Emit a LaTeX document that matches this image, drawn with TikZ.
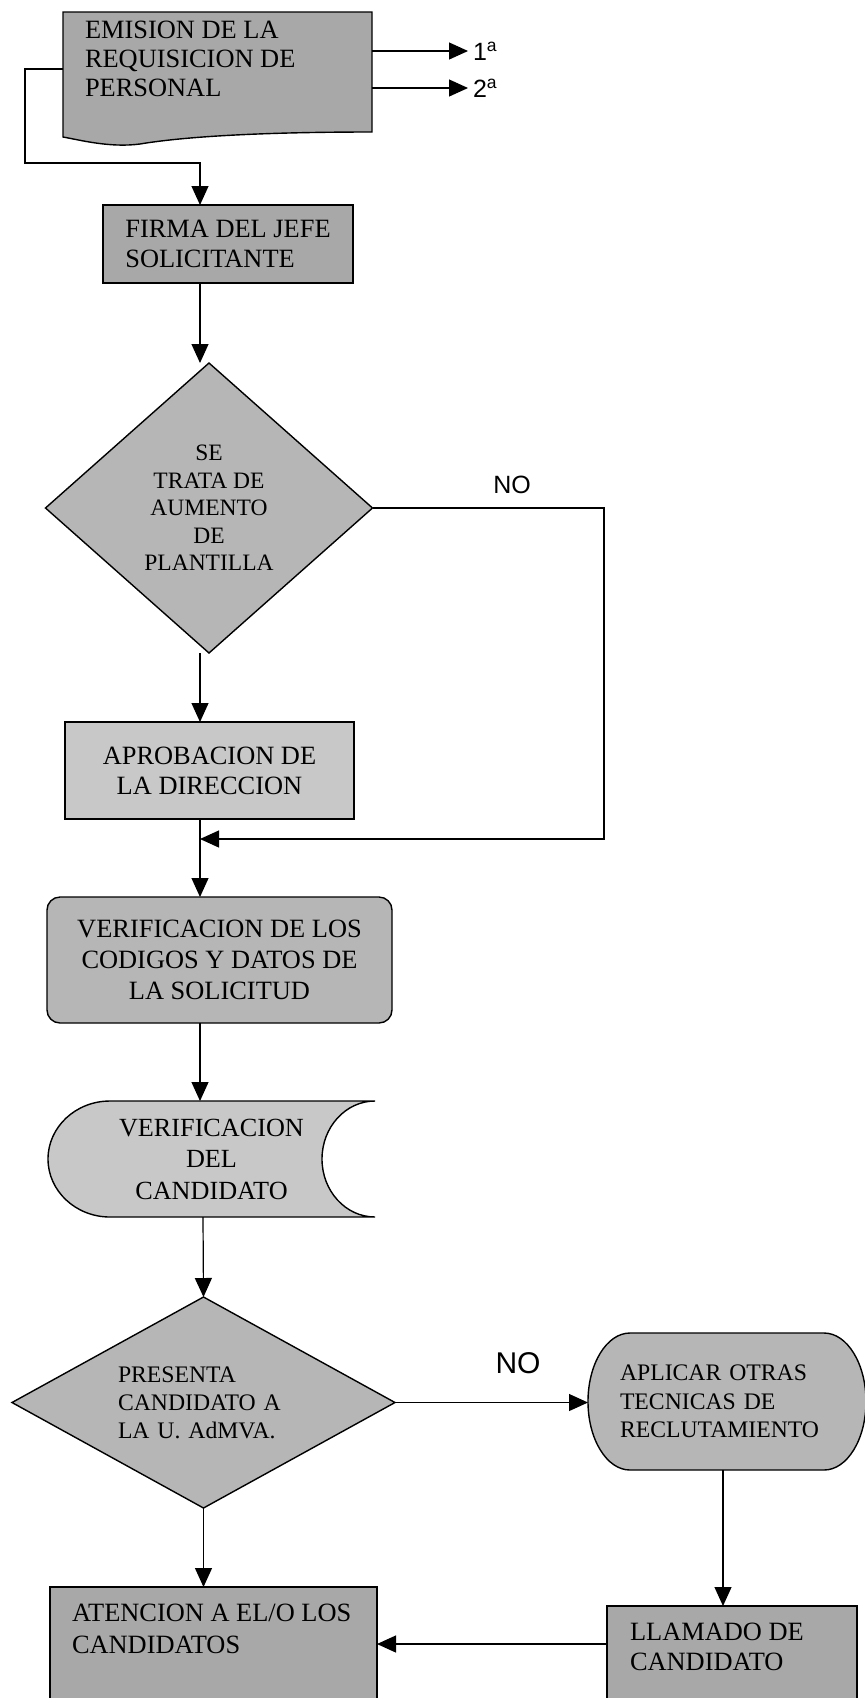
\documentclass[tikz,border=0pt]{standalone}
\usepackage{fontspec}
\setmainfont{Liberation Serif}
\newfontfamily\arialfont{Liberation Sans}
\usetikzlibrary{arrows.meta,shapes.geometric}
\definecolor{fdark}{HTML}{A8A8A8}
\definecolor{fmid}{HTML}{B6B6B6}
\definecolor{flight}{HTML}{C8C8C8}
\begin{document}
\begin{tikzpicture}[x=1pt,y=-1pt,
  every node/.style={inner sep=0pt,outer sep=0pt},
  big/.style={font=\fontsize{26.4}{30}\selectfont},
  box/.style={draw,line width=1.4pt,line join=miter},
  conn/.style={line width=1.2pt},
  arr/.style={conn,-{Triangle[length=19pt,width=17pt]}},
  lab/.style={font=\arialfont\fontsize{25}{30}\selectfont}]
\fill[white] (0,0) rectangle (865,1698);
\useasboundingbox (0,0) rectangle (865,1698);
\coordinate (col) at (200,0);
\coordinate (col2) at (203,0);

% document shape
\draw[box,fill=fdark] (63,12) -- (372,12) -- (372,132) .. controls (300,132) and (200,134) .. (140,144) .. controls (110,148) and (80,140) .. (63,137) -- cycle;
\node[minimum width=309pt,minimum height=114pt] (doc) at (217.5,69) {};
\node[font=\fontsize{26.4}{29}\selectfont,align=left,anchor=north west] (docT) at (85,21.3) {EMISION DE LA\\REQUISICION DE\\PERSONAL};
\node[lab,font=\arialfont\fontsize{25}{28}\selectfont,anchor=west] (one) at (473,51) {1\textsuperscript{a}};
\node[lab,font=\arialfont\fontsize{25}{28}\selectfont,anchor=west] (two) at (473,88) {2\textsuperscript{a}};
\draw[arr,shorten >=5pt] (doc.east |- one.west) -- (one.west);
\draw[arr,shorten >=5pt] (doc.east |- two.west) -- (two.west);

\node[box,fill=fdark,big,align=left,minimum width=250pt,minimum height=78pt] (firma) at (228,244) {FIRMA DEL JEFE\\SOLICITANTE};
\draw[arr] (doc.west) -- (25,69) -- (25,163) -- (200,163) -- (firma.north -| col);

\node[box,fill=fmid,diamond,aspect=1.13,minimum width=327pt,minimum height=290pt,font=\fontsize{23.5}{27.5}\selectfont,align=center] (d1) at (209,508) {SE\\TRATA DE\\AUMENTO\\DE\\PLANTILLA};
\draw[arr] (firma.south -| col) -- (d1.north -| col);
\node[lab] (no1) at (512,485) {NO};

\node[box,fill=flight,big,align=center,minimum width=289pt,minimum height=97pt] (aprob) at (209.5,770.5) {APROBACION DE\\LA DIRECCION};
\draw[arr] (d1.south -| col) -- (aprob.north -| col);

\coordinate (m) at (200,839);
\coordinate (r1) at (604,839);
\draw[arr] (d1.east) -- (d1.east -| r1) -- (r1) -- (m);
\draw[conn] (aprob.south -| m) -- (m);

\node[box,fill=fmid,rounded corners=13pt,font=\fontsize{26.4}{31}\selectfont,align=center,minimum width=345pt,minimum height=126pt] (v1) at (219.5,960) {VERIFICACION DE LOS\\CODIGOS Y DATOS DE\\LA SOLICITUD};
\draw[arr] (m) -- (v1.north -| m);

% stored data shape
\draw[box,fill=flight] (110,1101) -- (375,1101) .. controls (345.7,1101) and (322,1127) .. (322,1159) .. controls (322,1191) and (345.7,1217) .. (375,1217) -- (110,1217) .. controls (75.8,1217) and (48,1191) .. (48,1159) .. controls (48,1127) and (75.8,1101) .. (110,1101) -- cycle;
\node[font=\fontsize{26.2}{31.5}\selectfont,align=center,minimum width=327pt,minimum height=116pt] (v2) at (211.5,1159) {VERIFICACION\\DEL\\CANDIDATO};
\draw[arr] (v1.south -| col) -- (v2.north -| col);

\node[box,fill=fmid,diamond,aspect=1.815,minimum width=383pt,minimum height=211pt,font=\fontsize{23.7}{28}\selectfont,text width=171pt,align=left] (d2) at (203.5,1402.5) {PRESENTA\\CANDIDATO A\\LA U. AdMVA.};
\draw[arr] (v2.south -| col2) -- (d2.north);

\node[lab,font=\arialfont\fontsize{30}{36}\selectfont] (no2) at (518,1363) {NO};
% terminal (stadium) shape
\draw[box,fill=fmid] (630,1333) -- (824,1333) .. controls (847.2,1333) and (866,1363.7) .. (866,1401.5) .. controls (866,1439.3) and (847.2,1470) .. (824,1470) -- (630,1470) .. controls (606.8,1470) and (588,1439.3) .. (588,1401.5) .. controls (588,1363.7) and (606.8,1333) .. (630,1333) -- cycle;
\node[minimum width=278pt,minimum height=137pt,font=\fontsize{23.7}{28.5}\selectfont,text width=214pt,align=left] (apl) at (727,1401.5) {APLICAR OTRAS\\TECNICAS DE\\RECLUTAMIENTO};
\draw[arr] (d2.east) -- (d2.east -| apl.west);

\node[box,fill=fdark,minimum width=250pt,minimum height=114pt] (llam) at (732,1663) {};
\node[big,align=left,anchor=north west] (llamT) at (630,1623.3) {LLAMADO DE\\CANDIDATO};
\draw[arr] (apl.south -| 723,0) -- (llam.north -| 723,0);

\node[box,fill=fdark,minimum width=327pt,minimum height=133pt] (aten) at (213.5,1653.5) {};
\node[font=\fontsize{26.4}{32}\selectfont,align=left,anchor=north west] (atenT) at (72,1604.3) {ATENCION A EL/O LOS\\CANDIDATOS};
\draw[arr] (d2.south) -- (d2.south |- aten.north);

\coordinate (row) at (0,1644);
\draw[arr] (llam.west |- row) -- (aten.east |- row);
\end{tikzpicture}
\end{document}
